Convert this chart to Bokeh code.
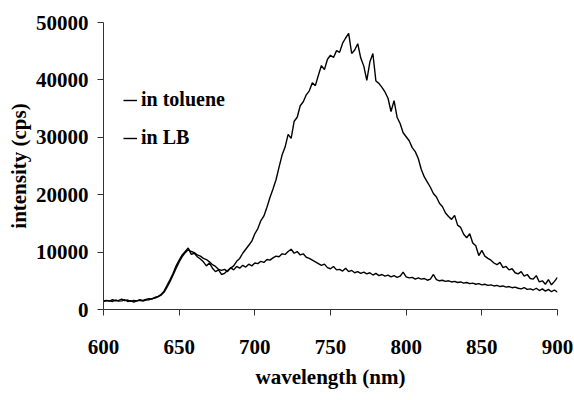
from bokeh.plotting import figure
from bokeh.models import Range1d, FixedTicker, Legend, LegendItem, ColumnDataSource
from bokeh.embed import file_html
from bokeh.resources import INLINE

wavelength = list(range(600, 901, 2))

toluene = [
    1500, 1600, 1450, 1700, 1500, 1600, 1800, 1550, 1650, 1400,
    1600, 1500, 1700, 1600, 1750, 1900, 1800, 2100, 2300, 2600,
    3200, 4200, 5200, 6300, 7600, 8600, 9500, 10100, 10700, 9600,
    9800, 9200, 8800, 8300, 7600, 8100, 7200, 6600, 6900, 6100,
    6300, 6800, 7200, 7600, 8400, 8900, 9800, 10500, 11200, 11900,
    13200, 14100, 15500, 16300, 17800, 19500, 21000, 22600, 24800, 26900,
    28300, 30500, 29800, 32800, 33500, 35500, 36200, 37400, 38100, 39500,
    39000, 40800, 42500, 41800, 43600, 44300, 43900, 45100, 44800, 46400,
    47300, 48100, 44600, 45200, 46300, 43800, 42400, 39900, 43100, 44600,
    39800, 39400, 38700, 37900, 36800, 34500, 36400, 33500, 32400, 30800,
    30100, 29400, 28200, 27500, 26300, 24400, 23100, 22200, 21300, 20200,
    19600, 18500, 17900, 16800, 16200, 15700, 16400, 14700, 14300, 13100,
    12500, 13200, 11600, 11100, 9400, 10300, 9300, 8900, 8600, 8100,
    7800, 8200, 7300, 7500, 6900, 7100, 6400, 6200, 6600, 5800,
    6100, 5400, 5300, 5900, 4800, 5000, 4400, 5200, 4300, 4900,
    5600,
]

lb = [
    1400, 1550, 1500, 1400, 1650, 1450, 1500, 1700, 1400, 1550,
    1300, 1500, 1600, 1450, 1650, 1700, 1900, 2000, 2200, 2500,
    3000, 3900, 4900, 6000, 7200, 8300, 9200, 9900, 10400, 10100,
    9900, 9500, 9300, 8900, 8700, 8300, 7800, 7500, 7000, 6800,
    7000, 6600, 7300, 6900, 7500, 7200, 7700, 7400, 7900, 7600,
    8100, 8000, 8400, 8200, 8700, 8600, 9000, 9300, 9200, 9700,
    9600, 10100, 10500, 9800, 10100, 9500, 9700, 9100, 8900, 8600,
    8300, 8000, 7700, 7900, 7300, 7100, 7500, 6900, 7000, 6700,
    7200, 6600, 6800, 6400, 6600, 6300, 6500, 6200, 6400, 6000,
    6300, 5900, 6100, 5800, 6000, 5700, 5900, 5600, 5800, 6500,
    5700, 5500, 5600, 5300, 5500, 5300, 5400, 5100, 5300, 6100,
    5200, 5000, 5100, 4900, 5000, 4800, 4900, 4700, 4800, 4600,
    4700, 4500, 4600, 4400, 4500, 4300, 4400, 4200, 4300, 4100,
    4200, 4000, 4100, 3900, 4000, 3800, 3900, 3700, 3600, 3800,
    3500, 3600, 3400, 3700, 3300, 3600, 3200, 3500, 3100, 3400,
    3000,
]

x_ticks = [600, 650, 700, 750, 800, 850, 900]
y_ticks = [0, 10000, 20000, 30000, 40000, 50000]
series_labels = ["in toluene", "in LB"]

FONT = "Liberation Serif"

p = figure(width=574, height=400, output_backend="svg", toolbar_location=None,
           x_range=Range1d(600, 900), y_range=Range1d(0, 50000),
           min_border_left=103, min_border_right=17, min_border_top=22,
           min_border_bottom=91)
p.outline_line_color = None
p.xgrid.grid_line_color = None
p.ygrid.grid_line_color = None
p.background_fill_color = "white"
p.border_fill_color = "white"

src = ColumnDataSource(dict(x=wavelength, t=toluene, l=lb))
r1 = p.line("x", "t", source=src, line_color="black", line_width=1.4)
r2 = p.line("x", "l", source=src, line_color="black", line_width=1.4)

for ax in (p.xaxis[0], p.yaxis[0]):
    ax.axis_line_color = "#333333"
    ax.major_tick_line_color = "#333333"
    ax.major_tick_in = 0
    ax.major_tick_out = 6
    ax.minor_tick_line_color = None
    ax.major_label_text_font = FONT
    ax.major_label_text_font_style = "bold"
    ax.major_label_text_font_size = "21px"
    ax.major_label_text_color = "black"
    ax.axis_label_text_font = FONT
    ax.axis_label_text_font_style = "bold"
    ax.axis_label_text_font_size = "21px"
    ax.axis_label_text_color = "black"

p.xaxis[0].ticker = FixedTicker(ticks=x_ticks)
p.yaxis[0].ticker = FixedTicker(ticks=y_ticks)
p.xaxis[0].axis_label = "wavelength (nm)"
p.yaxis[0].axis_label = "intensity (cps)"
p.xaxis[0].major_label_standoff = 24
p.xaxis[0].axis_label_standoff = 8
p.yaxis[0].major_label_standoff = 9
p.yaxis[0].axis_label_standoff = 2

legend = Legend(items=[LegendItem(label=series_labels[0], renderers=[r1]),
                       LegendItem(label=series_labels[1], renderers=[r2])],
                location=(20, 160))
legend.border_line_color = None
legend.background_fill_alpha = 0
legend.label_text_font = FONT
legend.label_text_font_style = "bold"
legend.label_text_font_size = "20px"
legend.label_text_color = "black"
legend.glyph_width = 14
legend.glyph_height = 20
legend.label_height = 20
legend.label_standoff = 4
legend.spacing = 15
legend.padding = 0
legend.margin = 0
p.add_layout(legend)

open("out.html", "w").write(file_html(p, INLINE))
